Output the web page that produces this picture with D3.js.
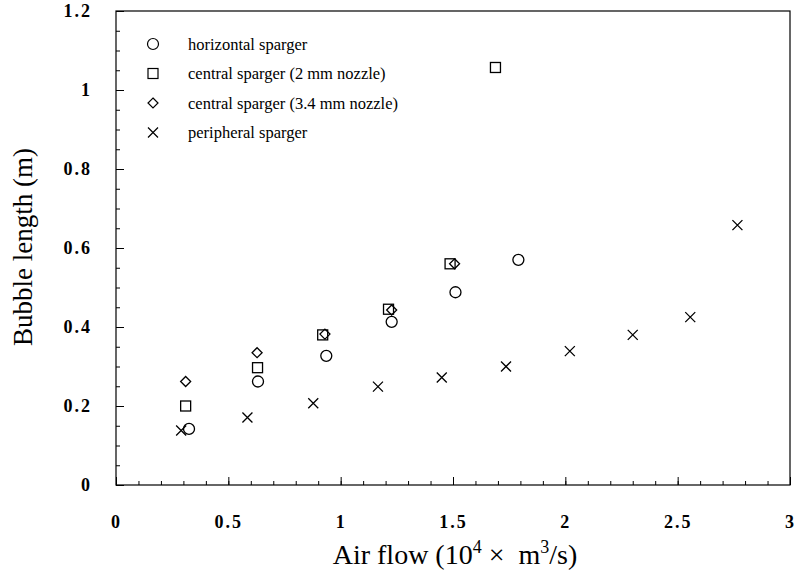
<!DOCTYPE html>
<html>
<head>
<meta charset="utf-8">
<script src="https://cdn.jsdelivr.net/npm/d3@7"></script>
<style>
  body { margin: 0; background: #fff; }
  svg { display: block; }
</style>
</head>
<body>
<div id="chart"></div>
<script>
// series: [air flow, bubble length]
const horizontal = [[0.325, 0.142], [0.632, 0.262], [0.936, 0.327], [1.227, 0.413], [1.511, 0.488], [1.791, 0.570]];
const central2mm = [[0.31, 0.200], [0.63, 0.297], [0.92, 0.380], [1.213, 0.445], [1.487, 0.560], [1.689, 1.057]];
const central34mm = [[0.31, 0.262], [0.628, 0.335], [0.93, 0.382], [1.227, 0.443], [1.507, 0.560]];
const peripheral = [[0.29, 0.138], [0.585, 0.171], [0.878, 0.207], [1.166, 0.249], [1.45, 0.272], [1.736, 0.300], [2.02, 0.339], [2.30, 0.380], [2.556, 0.425], [2.766, 0.658]];

const legendNames = ["horizontal sparger", "central sparger (2 mm nozzle)", "central sparger (3.4 mm nozzle)", "peripheral sparger"];
const xTicks = [0, 0.5, 1, 1.5, 2, 2.5, 3];
const yTicks = [0, 0.2, 0.4, 0.6, 0.8, 1, 1.2];

const width = 796;
const height = 574;
const plotLeft = 116, plotRight = 790, plotTop = 11, plotBottom = 485;
const serif = "'Liberation Serif', 'Times New Roman', serif";

const svg = d3.select("#chart").append("svg")
    .attr("width", width)
    .attr("height", height);

const x = d3.scaleLinear().domain([0, 3]).range([plotLeft, plotRight]);
const y = d3.scaleLinear().domain([0, 1.2]).range([plotBottom, plotTop]);

const fmt = d => d === 0 ? "0" : String(d);

// minor ticks
svg.append("g")
    .attr("transform", `translate(0,${plotBottom})`)
    .call(d3.axisBottom(x).tickValues(d3.range(0, 3.001, 0.1)).tickSize(-4).tickFormat(""))
    .call(g => g.select(".domain").remove());
svg.append("g")
    .attr("transform", `translate(${plotLeft},0)`)
    .call(d3.axisLeft(y).tickValues(d3.range(0, 1.2001, 0.05)).tickSize(-4).tickFormat(""))
    .call(g => g.select(".domain").remove());

// major ticks + labels
const xAxis = svg.append("g")
    .attr("transform", `translate(0,${plotBottom})`)
    .call(d3.axisBottom(x).tickValues(xTicks).tickSize(-8).tickPadding(30).tickFormat(fmt));
const yAxis = svg.append("g")
    .attr("transform", `translate(${plotLeft},0)`)
    .call(d3.axisLeft(y).tickValues(yTicks).tickSize(-8).tickPadding(24).tickFormat(fmt));

[xAxis, yAxis].forEach(g => {
  g.select(".domain").remove();
  g.selectAll("text")
    .attr("font-family", serif)
    .attr("font-weight", "bold")
    .attr("font-size", 18)
    .attr("letter-spacing", "2px")
    .attr("fill", "#000");
});
svg.selectAll(".tick line").attr("stroke", "#000").attr("stroke-width", 1);

// frame
svg.append("rect")
    .attr("x", plotLeft).attr("y", plotTop)
    .attr("width", plotRight - plotLeft).attr("height", plotBottom - plotTop)
    .attr("fill", "none").attr("stroke", "#000").attr("stroke-width", 1.2);

// markers
const sym = {
  circle: (g) => g.append("circle").attr("r", 5.5),
  square: (g) => g.append("rect").attr("x", -5).attr("y", -5).attr("width", 10).attr("height", 10),
  diamond: (g) => g.append("path").attr("d", "M0,-5L5,0L0,5L-5,0Z"),
  cross: (g) => g.append("path").attr("d", "M-5,-5L5,5M-5,5L5,-5")
};

const series = [
  { data: horizontal, shape: "circle" },
  { data: central2mm, shape: "square" },
  { data: central34mm, shape: "diamond" },
  { data: peripheral, shape: "cross" }
];

series.forEach(s => {
  svg.append("g").selectAll("g")
    .data(s.data)
    .join("g")
    .attr("transform", d => `translate(${x(d[0])},${y(d[1])})`)
    .each(function() {
      sym[s.shape](d3.select(this))
        .attr("fill", "none")
        .attr("stroke", "#000")
        .attr("stroke-width", 1.3);
    });
});

// legend
const legend = svg.append("g");
legendNames.forEach((name, i) => {
  const row = legend.append("g").attr("transform", `translate(153,${44 + i * 29.5})`);
  sym[series[i].shape](row)
    .attr("fill", "none")
    .attr("stroke", "#000")
    .attr("stroke-width", 1.2);
  row.append("text")
    .attr("x", 35)
    .attr("dy", "0.35em")
    .attr("font-family", serif)
    .attr("font-size", 16.5)
    .text(name);
});

// axis titles
const xTitle = svg.append("text")
    .attr("x", 455)
    .attr("y", 564)
    .attr("text-anchor", "middle")
    .attr("font-family", serif)
    .attr("font-size", 28);
xTitle.append("tspan").text("Air flow (10");
xTitle.append("tspan").attr("font-size", 18).attr("dy", -11).text("4");
xTitle.append("tspan").attr("dy", 11).text("\u00a0\u00d7\u00a0\u00a0m");
xTitle.append("tspan").attr("font-size", 18).attr("dy", -11).text("3");
xTitle.append("tspan").attr("dy", 11).text("/s)");

svg.append("text")
    .attr("transform", "translate(32,247) rotate(-90)")
    .attr("text-anchor", "middle")
    .attr("font-family", serif)
    .attr("font-size", 27)
    .text("Bubble length (m)");
</script>
</body>
</html>
